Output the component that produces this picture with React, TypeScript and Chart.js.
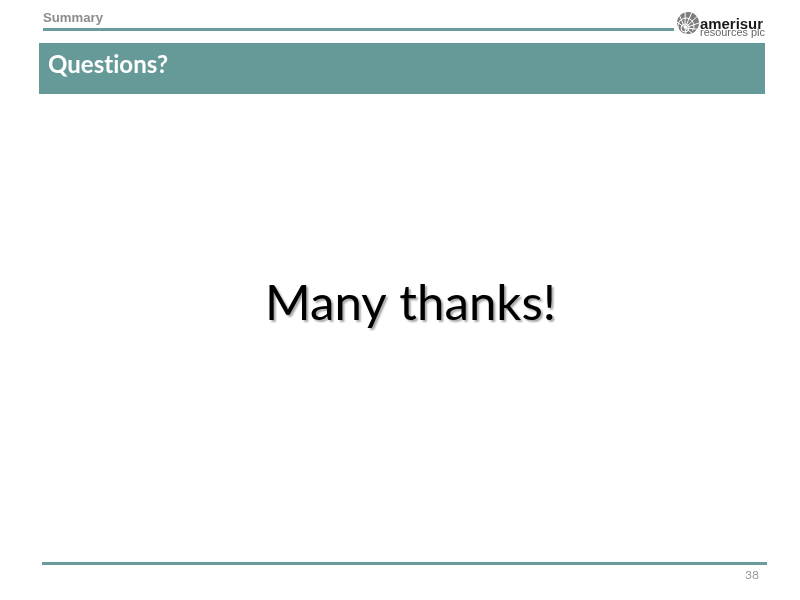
import React, { useEffect, useRef } from "react";
import { Chart, registerables } from "chart.js";

Chart.register(...registerables);

// Slide content
const sectionLabel: string[] = ["Summary"];
const headerTitle: string[] = ["Questions?"];
const bodyMessage: string[] = ["Many thanks!"];
const pageNumber: string[] = ["38"];
const logoWords: string[] = ["amerisur", "resources plc"];

const TEAL = "#659a98";
const LINE = "#6b9c9b";

function fitSize(ctx: CanvasRenderingContext2D, text: string, weight: string, family: string, target: number): number {
  ctx.font = `${weight} 100px ${family}`;
  const w = ctx.measureText(text).width;
  return (100 * target) / w;
}

function drawFitted(
  ctx: CanvasRenderingContext2D,
  text: string,
  weight: string,
  family: string,
  x: number,
  baseline: number,
  width: number,
  color: string,
  noLig = false
) {
  const anyCtx = ctx as any;
  anyCtx.letterSpacing = noLig ? "0.01px" : "0px";
  const size = fitSize(ctx, text, weight, family, width);
  ctx.font = `${weight} ${size}px ${family}`;
  ctx.fillStyle = color;
  ctx.textAlign = "left";
  ctx.textBaseline = "alphabetic";
  ctx.fillText(text, x, baseline);
  anyCtx.letterSpacing = "0px";
}

const slidePlugin = {
  id: "slideDecor",
  afterDraw(chart: any) {
    const ctx: CanvasRenderingContext2D = chart.ctx;
    ctx.save();

    // top rule
    ctx.fillStyle = LINE;
    ctx.fillRect(43, 28, 631, 3);

    // section label
    drawFitted(ctx, sectionLabel[0], "bold", "'Liberation Sans', Arial, sans-serif", 43, 22, 60, "#8c8c8c");

    // header band
    ctx.fillStyle = TEAL;
    ctx.fillRect(39, 43, 726, 51);
    drawFitted(ctx, headerTitle[0], "bold", "Lato, 'Open Sans', sans-serif", 48, 73, 120, "#ffffff", true);

    // body message with shadow
    ctx.save();
    ctx.shadowColor = "rgba(0,0,0,0.35)";
    ctx.shadowOffsetX = 2;
    ctx.shadowOffsetY = 2;
    ctx.shadowBlur = 2;
    drawFitted(ctx, bodyMessage[0], "normal", "Lato, 'Open Sans', sans-serif", 265, 320, 291, "#000000", true);
    ctx.restore();

    // bottom rule
    ctx.fillStyle = LINE;
    ctx.fillRect(42, 562, 725, 3);

    // page number
    drawFitted(ctx, pageNumber[0], "normal", "Lato, 'Open Sans', sans-serif", 745, 579, 14, "#9a9a9a");

    // logo shell
    const cx = 688, cy = 23, r = 11;
    ctx.fillStyle = "#7d7d7d";
    ctx.beginPath();
    ctx.arc(cx, cy, r, 0, Math.PI * 2);
    ctx.fill();
    ctx.strokeStyle = "#ffffff";
    ctx.lineWidth = 1;
    const ox = cx - 3, oy = cy + 5;
    for (let i = 0; i < 9; i++) {
      const a = -Math.PI * 0.95 + (i * Math.PI * 1.5) / 8;
      ctx.beginPath();
      ctx.moveTo(ox, oy);
      ctx.lineTo(cx + Math.cos(a) * (r + 1), cy + Math.sin(a) * (r + 1));
      ctx.stroke();
    }
    ctx.beginPath();
    ctx.arc(ox, oy, 4, 0, Math.PI * 2);
    ctx.stroke();
    ctx.beginPath();
    ctx.arc(ox + 1, oy - 2, 8, Math.PI * 0.9, Math.PI * 2.2);
    ctx.stroke();

    // logo words
    drawFitted(ctx, logoWords[0], "bold", "'Liberation Sans', Arial, sans-serif", 700, 28.5, 63, "#1a1a1a");
    drawFitted(ctx, logoWords[1], "normal", "'Liberation Sans', Arial, sans-serif", 700, 36, 65, "#666666");

    ctx.restore();
  },
};

export default function App() {
  const ref = useRef<HTMLCanvasElement | null>(null);

  useEffect(() => {
    document.body.style.margin = "0";
    document.body.style.background = "#ffffff";
    if (!ref.current) return;
    const chart = new Chart(ref.current, {
      type: "scatter",
      data: { datasets: [{ data: [] }] },
      options: {
        animation: false,
        responsive: false,
        devicePixelRatio: 1,
        layout: { padding: 0 },
        scales: {
          x: { display: false, min: 0, max: 800 },
          y: { display: false, min: 0, max: 600 },
        },
        plugins: {
          legend: { display: false },
          tooltip: { enabled: false },
          title: { display: false },
        },
      },
      plugins: [slidePlugin],
    });
    return () => chart.destroy();
  }, []);

  return (
    <div style={{ position: "fixed", left: 0, top: 0, width: 800, height: 600, background: "#fff" }}>
      <canvas ref={ref} width={800} height={600} style={{ width: 800, height: 600 }} />
    </div>
  );
}
